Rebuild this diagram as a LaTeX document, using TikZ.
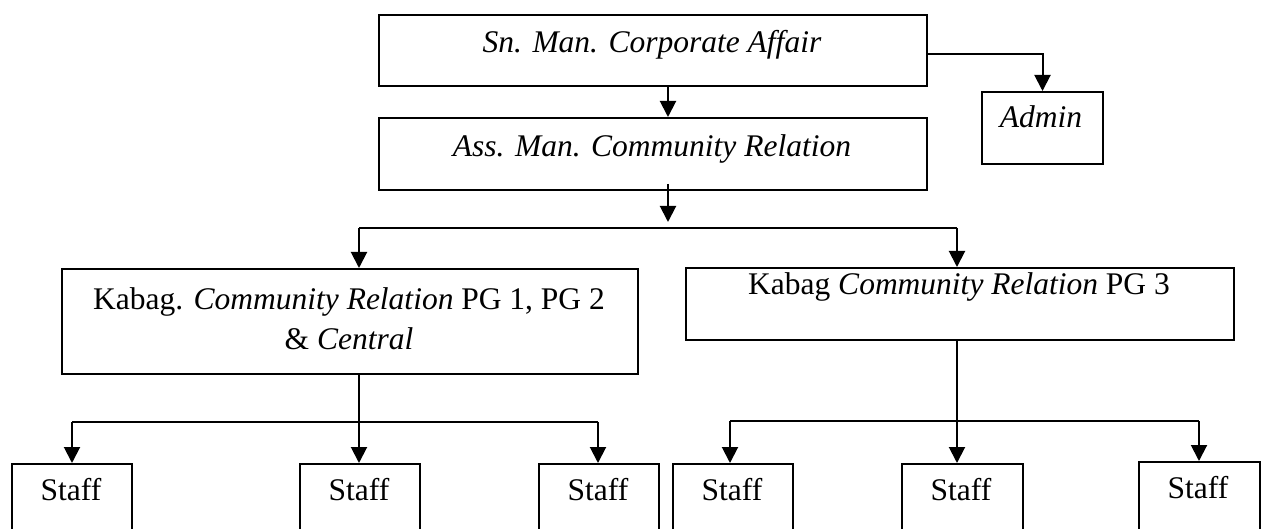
\documentclass[tikz,border=0pt]{standalone}
\usepackage{fontspec}
\setmainfont{Liberation Serif}
\usetikzlibrary{arrows.meta,calc}
\begin{document}
\begin{tikzpicture}[x=1pt,y=-1pt,
  box/.style={draw,line width=2pt,rectangle,inner sep=0pt,anchor=north west},
  lbl/.style={anchor=base,inner sep=0pt,font=\fontsize{31.5}{38}\selectfont},
  arr/.style={line width=2pt,-{Triangle[length=16pt,width=16pt]}},
  link/.style={line width=2pt}]
\useasboundingbox (0,0) rectangle (1262,529);
\clip (0,0) rectangle (1262,529);

% boxes
\node[box,minimum width=548,minimum height=71]  (top)   at (378,14)  {};
\node[box,minimum width=548,minimum height=72]  (ass)   at (378,117) {};
\node[box,minimum width=121,minimum height=72]  (admin) at (981,91)  {};
\node[box,minimum width=576,minimum height=105] (kl)    at (61,268)  {};
\node[box,minimum width=548,minimum height=72]  (kr)    at (685,267) {};
\node[box,minimum width=120,minimum height=100] (s1)    at (11,463)  {};
\node[box,minimum width=120,minimum height=100] (s2)    at (299,463) {};
\node[box,minimum width=120,minimum height=100] (s3)    at (538,463) {};
\node[box,minimum width=120,minimum height=100] (s4)    at (672,463) {};
\node[box,minimum width=121,minimum height=100] (s5)    at (901,463) {};
\node[box,minimum width=121,minimum height=100] (s6)    at (1138,461) {};

% texts
\node[lbl] (ttop)   at (652,53)  {\textit{Sn. Man. Corporate Affair}};
\node[lbl] (tass)   at (652,157) {\textit{Ass. Man. Community Relation}};
\node[lbl] (tadmin) at (1041,128) {\textit{Admin}};
\node[lbl] (tkla)   at (349,310) {Kabag. \textit{Community Relation} PG 1, PG 2};
\node[lbl] (tklb)   at (349,350) {\& \textit{Central}};
\node[lbl] (tkr)    at (959,295) {Kabag \textit{Community Relation} PG 3};
\node[lbl] (ts1) at (71,500)   {Staff};
\node[lbl] (ts2) at (359,500)  {Staff};
\node[lbl] (ts3) at (598,500)  {Staff};
\node[lbl] (ts4) at (732,500)  {Staff};
\node[lbl] (ts5) at (961,500)  {Staff};
\node[lbl] (ts6) at (1198,498) {Staff};

% junction points
\coordinate (aX) at (668,0);
\coordinate (bL) at (359,228);
\coordinate (bR) at (957,228);
\coordinate (lL) at (72,422);
\coordinate (lM) at (359,422);
\coordinate (lR) at (598,422);
\coordinate (rL) at (730,421);
\coordinate (rM) at (957,421);
\coordinate (rR) at (1199,421);

% upper connectors
\draw[arr] (top.south -| aX) -- (ass.north -| aX);
\draw[arr] ($(top.east)+(0,3.5)$) -| (admin.north);
\draw[arr] ($(ass.south -| aX)+(0,-7)$) -- ($(aX |- bL)+(0,-6)$);
\draw[link] (bL) -- (bR);
\draw[arr] (bL) -- (bL |- kl.north);
\draw[arr] (bR) -- (bR |- kr.north);

% left group
\draw[arr] (kl.south -| lM) -- (lM |- s2.north);
\draw[link] (lL) -- (lR);
\draw[arr] (lL) -- (lL |- s1.north);
\draw[arr] (lR) -- (lR |- s3.north);

% right group
\draw[arr] (kr.south -| rM) -- (rM |- s5.north);
\draw[link] (rL) -- (rR);
\draw[arr] (rL) -- (rL |- s4.north);
\draw[arr] (rR) -- (rR |- s6.north);
\end{tikzpicture}
\end{document}
